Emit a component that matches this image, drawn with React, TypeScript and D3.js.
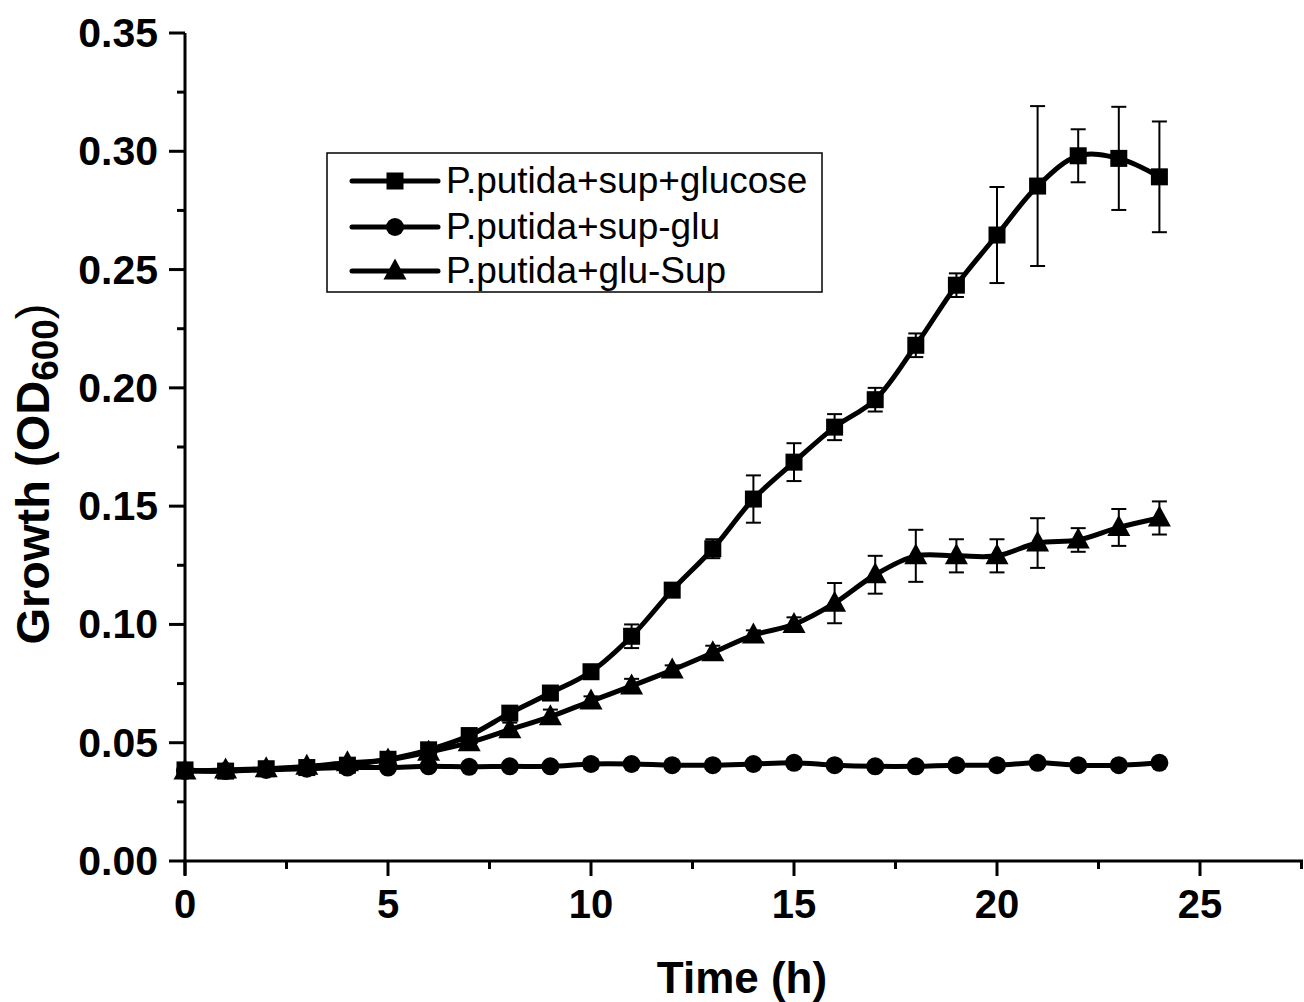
import React from "react";
import * as d3 from "d3";

const hours = [0,1,2,3,4,5,6,7,8,9,10,11,12,13,14,15,16,17,18,19,20,21,22,23,24];

const glucoseMean = [0.0385,0.038,0.039,0.0395,0.0405,0.043,0.047,0.053,0.0625,0.071,0.080,0.095,0.1145,0.132,0.153,0.1686,0.1834,0.195,0.218,0.2434,0.2646,0.2853,0.2981,0.2970,0.2892];
const glucoseErr = [0.001,0.001,0.001,0.001,0.001,0.001,0.0015,0.003,0.002,0.0015,0.002,0.005,0.0015,0.004,0.010,0.008,0.0055,0.005,0.005,0.005,0.0203,0.0338,0.0112,0.0218,0.0234];

const supGluMean = [0.038,0.038,0.0385,0.039,0.0395,0.0395,0.040,0.0398,0.040,0.040,0.041,0.041,0.0405,0.0405,0.041,0.0415,0.0405,0.040,0.040,0.0405,0.0405,0.0415,0.0405,0.0405,0.0415];
const supGluErr = [0.001,0.001,0.001,0.001,0.001,0.001,0.001,0.001,0.001,0.001,0.002,0.001,0.001,0.001,0.001,0.0015,0.001,0.001,0.001,0.001,0.001,0.0015,0.001,0.001,0.001];

const gluSupMean = [0.038,0.0385,0.039,0.040,0.0415,0.0427,0.046,0.050,0.0555,0.061,0.0676,0.074,0.0807,0.088,0.0955,0.100,0.109,0.121,0.129,0.129,0.129,0.1344,0.1357,0.141,0.145];
const gluSupErr = [0.001,0.001,0.001,0.001,0.001,0.001,0.0015,0.002,0.003,0.003,0.002,0.003,0.002,0.003,0.002,0.003,0.0085,0.008,0.011,0.007,0.007,0.0105,0.005,0.0078,0.007];

const seriesNames = ["P.putida+sup+glucose", "P.putida+sup-glu", "P.putida+glu-Sup"];
const seriesShapes = ["square", "circle", "triangle"];

const xMajorTicks = [0, 5, 10, 15, 20, 25];
const xMinorTicks = [2.5, 7.5, 12.5, 17.5, 22.5, 27.5];
const yMajorTicks = [0, 0.05, 0.1, 0.15, 0.2, 0.25, 0.3, 0.35];
const yMinorTicks = [0.025, 0.075, 0.125, 0.175, 0.225, 0.275, 0.325];

const FONT = "'Liberation Sans', Arial, Helvetica, sans-serif";

function Marker({ shape, cx, cy }: { shape: string; cx: number; cy: number }) {
  if (shape === "square") {
    return <rect x={cx - 8.5} y={cy - 8.5} width={17} height={17} fill="#000" />;
  }
  if (shape === "circle") {
    return <circle cx={cx} cy={cy} r={9} fill="#000" />;
  }
  const p = d3.path();
  p.moveTo(cx, cy - 12.5);
  p.lineTo(cx + 11.5, cy + 8.5);
  p.lineTo(cx - 11.5, cy + 8.5);
  p.closePath();
  return <path d={p.toString()} fill="#000" />;
}

export default function App() {
  const W = 1304, H = 1002;
  const x = d3.scaleLinear().domain([0, 27.5]).range([185, 1301.5]);
  const y = d3.scaleLinear().domain([0, 0.35]).range([861, 33]);

  const series = [
    { mean: glucoseMean, err: glucoseErr },
    { mean: supGluMean, err: supGluErr },
    { mean: gluSupMean, err: gluSupErr },
  ];

  const line = d3
    .line<number>()
    .x((_, i) => x(hours[i]))
    .y((d) => y(d))
    .curve(d3.curveCatmullRom.alpha(0.5));

  const legendRows = [181, 227, 271];

  return (
    <svg width={W} height={H} style={{ position: "absolute", left: 0, top: 0, background: "#fff" }} fontFamily={FONT}>
      <rect x={0} y={0} width={W} height={H} fill="#fff" />
      {/* error bars */}
      {series.map((s, si) => (
        <g key={"e" + si} stroke="#000" strokeWidth={2}>
          {s.mean.map((m, i) => {
            const cx = x(hours[i]);
            const t = y(m + s.err[i]);
            const b = y(m - s.err[i]);
            return (
              <g key={i}>
                <line x1={cx} x2={cx} y1={t} y2={b} />
                <line x1={cx - 7.5} x2={cx + 7.5} y1={t} y2={t} />
                <line x1={cx - 7.5} x2={cx + 7.5} y1={b} y2={b} />
              </g>
            );
          })}
        </g>
      ))}
      {/* lines */}
      {series.map((s, si) => (
        <path key={"l" + si} d={line(s.mean) || ""} fill="none" stroke="#000" strokeWidth={5} strokeLinejoin="round" />
      ))}
      {/* markers */}
      {series.map((s, si) => (
        <g key={"m" + si}>
          {s.mean.map((m, i) => (
            <Marker key={i} shape={seriesShapes[si]} cx={x(hours[i])} cy={y(m)} />
          ))}
        </g>
      ))}

      {/* axes */}
      <g stroke="#000" strokeWidth={3}>
        <line x1={x(0)} x2={x(27.5)} y1={y(0)} y2={y(0)} strokeLinecap="square" />
        <line x1={x(0)} x2={x(0)} y1={y(0) + 14} y2={y(0.35)} />
        {xMajorTicks.map((t) => (
          <line key={"xm" + t} x1={x(t)} x2={x(t)} y1={y(0)} y2={y(0) + 15} />
        ))}
        {xMinorTicks.map((t) => (
          <line key={"xn" + t} x1={x(t)} x2={x(t)} y1={y(0)} y2={y(0) + 8} />
        ))}
        {yMajorTicks.map((t) => (
          <line key={"ym" + t} x1={x(0) - 16} x2={x(0)} y1={y(t)} y2={y(t)} />
        ))}
        {yMinorTicks.map((t) => (
          <line key={"yn" + t} x1={x(0) - 8} x2={x(0)} y1={y(t)} y2={y(t)} />
        ))}
      </g>
      {xMajorTicks.map((t) => (
        <text key={"xl" + t} x={x(t)} y={918} textAnchor="middle" fontSize={40} fontWeight="bold">
          {t}
        </text>
      ))}
      {yMajorTicks.map((t) => (
        <text key={"yl" + t} x={158} y={y(t) + 14} textAnchor="end" fontSize={41} fontWeight="bold">
          {t.toFixed(2)}
        </text>
      ))}
      <text x={742} y={993} textAnchor="middle" fontSize={44} fontWeight="bold">
        Time (h)
      </text>
      <text transform="translate(49,474) rotate(-90)" textAnchor="middle" fontSize={47} fontWeight="bold">
        Growth (OD<tspan fontSize={37} dy={9}>600</tspan>
        <tspan dy={-9} fontWeight="normal">)</tspan>
      </text>

      {/* legend */}
      <rect x={327} y={153} width={495} height={139} fill="#fff" stroke="#000" strokeWidth={1.5} />
      {seriesNames.map((name, i) => (
        <g key={"lg" + i}>
          <line x1={352} x2={438} y1={legendRows[i]} y2={legendRows[i]} stroke="#000" strokeWidth={5} strokeLinecap="round" />
          <Marker shape={seriesShapes[i]} cx={395} cy={legendRows[i]} />
          <text x={446} y={legendRows[i] + 12} fontSize={37}>
            {name}
          </text>
        </g>
      ))}
    </svg>
  );
}
